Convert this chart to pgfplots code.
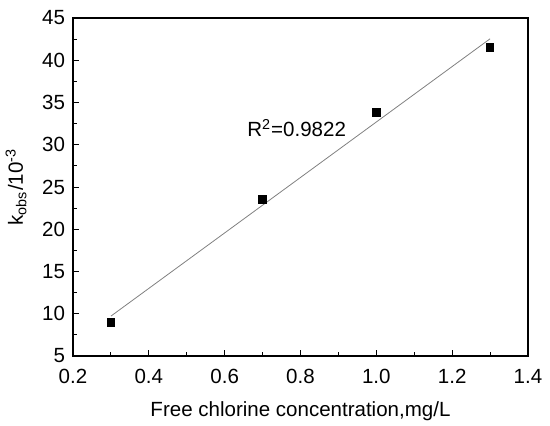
\documentclass[border=0pt]{standalone}
\usepackage{fontspec}
\setmainfont{Liberation Sans}
\usepackage{pgfplots}
\pgfplotsset{compat=1.18}
\begin{document}
\begin{tikzpicture}
\begin{axis}[
  scale only axis,
  width=227.5bp, height=169bp,
  xmin=0.2, xmax=1.4, ymin=5, ymax=45,
  xtick={0.2,0.4,...,1.4}, ytick={5,10,...,45},
  minor tick num=1,
  tick pos=left,
  tick align=inside,
  major tick length=3.2bp, minor tick length=1.8bp,
  every tick/.style={black, line width=0.5pt},
  axis line style={line width=0.6pt},
  /pgf/number format/assume math mode=true,
  /pgf/number format/fixed,
  /pgf/number format/precision=1,
  xticklabel style={/pgf/number format/fixed zerofill, /pgf/number format/precision=1, yshift=-3bp},
  yticklabel style={/pgf/number format/fixed, xshift=-0.5bp},
  ticklabel style={font=\fontsize{10.3}{12}\selectfont},
  label style={font=\fontsize{10.3}{12}\selectfont},
  xlabel={Free chlorine concentration,mg/L},
  ylabel={k\textsubscript{obs}/10\textsuperscript{-3}},
  xlabel style={yshift=-2bp},
  ylabel style={yshift=1bp},
  clip=false,
]
\addplot[gray, line width=0.4pt] coordinates {(0.3,9.72) (1.3,42.54)};
\addplot[only marks, mark=square*, mark size=1.9bp, black] coordinates {
(0.3,9.0) (0.7,23.5) (1.0,33.8) (1.3,41.5)};
\node[font=\fontsize{10.3}{12}\selectfont] at (axis cs:0.79,32.0) {R\textsuperscript{2}=0.9822};
\end{axis}
\pgfresetboundingbox
\path (-36.5bp,-35bp) rectangle (238.5bp,178bp);
\end{tikzpicture}
\end{document}
